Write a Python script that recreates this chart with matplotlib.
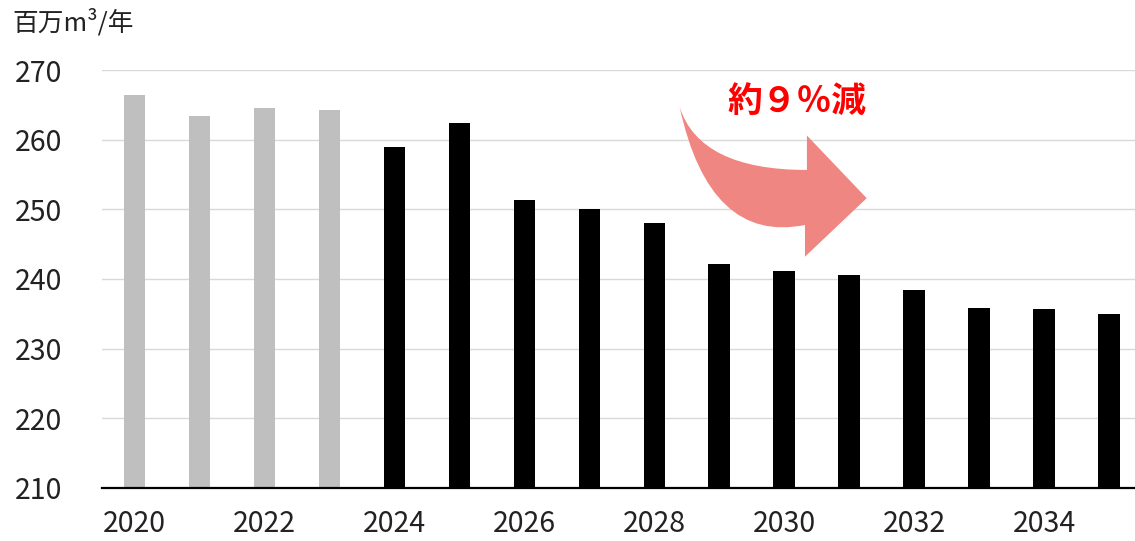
import matplotlib
matplotlib.use('Agg')
from matplotlib import pyplot as plt
from matplotlib.path import Path
from matplotlib.patches import PathPatch

plt.rcParams['font.family'] = ['Noto Sans CJK JP', 'DejaVu Sans']

years = list(range(2020, 2036))
values = [266.4, 263.4, 264.5, 264.3, 258.9, 262.4, 251.3, 250.0, 248.0,
          242.2, 241.1, 240.6, 238.4, 235.8, 235.7, 235.0]
actual_years = 4  # first four bars are results (grey), rest are projections
bar_colors = ['#BFBFBF'] * actual_years + ['#000000'] * (len(years) - actual_years)
yticks = [210, 220, 230, 240, 250, 260, 270]
xticks = [2020, 2022, 2024, 2026, 2028, 2030, 2032, 2034]

fig = plt.figure(figsize=(11.35, 5.41), dpi=100)
ax = fig.add_axes([0.0899, 0.098, 0.9101, 0.7726])

ax.bar(years, [v - 210 for v in values], bottom=210, width=0.33, color=bar_colors, zorder=3)
ax.set_ylim(210, 270)
ax.set_xlim(2019.5, 2035.4)
ax.set_yticks(yticks)
ax.set_xticks(xticks)
ax.yaxis.grid(True, color='#D9D9D9', linewidth=1)
ax.set_axisbelow(True)
for s in ['left', 'right', 'top']:
    ax.spines[s].set_visible(False)
ax.spines['bottom'].set_color('black')
ax.spines['bottom'].set_linewidth(1.6)
ax.spines['bottom'].set_zorder(4)
ax.tick_params(axis='both', length=0, labelsize=20.5, colors='#222222')
ax.tick_params(axis='x', pad=15)
ax.tick_params(axis='y', pad=29)

fig.text(0.011, 0.958, '百万m³/年', fontsize=18.5, color='#222222', va='center', ha='left')

# curved arrow annotation
verts = [
    (2028.39, 264.7),   # tail
    (2028.70, 255.65),  # control
    (2030.35, 255.65),  # shaft upper end
    (2030.35, 260.6),   # head top
    (2031.27, 251.6),   # tip
    (2030.32, 243.2),   # head bottom
    (2030.32, 247.75),  # shaft lower end
    (2028.85, 245.0),   # control
    (2028.39, 264.7),   # back to tail
    (2028.39, 264.7),
]
codes = [Path.MOVETO, Path.CURVE3, Path.CURVE3, Path.LINETO, Path.LINETO,
         Path.LINETO, Path.LINETO, Path.CURVE3, Path.CURVE3, Path.CLOSEPOLY]
ax.add_patch(PathPatch(Path(verts, codes), facecolor='#F08682', edgecolor='none',
                       zorder=5, clip_on=False))
ax.text(2030.19, 265.5, '約９％減', fontsize=25, fontweight='bold', color='#FF0000',
        ha='center', va='center', zorder=6)

fig.savefig('out.png', dpi=100)
